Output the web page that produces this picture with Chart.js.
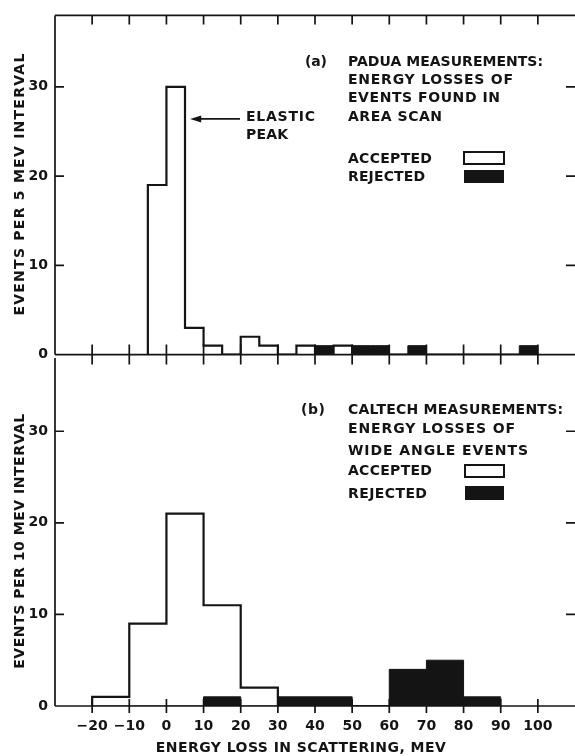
<!DOCTYPE html>
<html>
<head>
<meta charset="utf-8">
<script src="https://cdn.jsdelivr.net/npm/chart.js@4.4.1/dist/chart.umd.min.js"></script>
<style>
    html, body { margin: 0; padding: 0; background: #fff; }
    #wrap { position: relative; width: 575px; height: 756px; overflow: hidden; }
    .panel { position: absolute; left: 0; width: 575px; }
    #top { top: 0; height: 370px; }
    #bottom { top: 340px; height: 416px; }
</style>
</head>
<body>
<div id="wrap">
    <div class="panel" id="top"><canvas id="chart-padua" width="575" height="370"></canvas></div>
    <div class="panel" id="bottom"><canvas id="chart-caltech" width="575" height="416"></canvas></div>
</div>
<script>

// 
// Padua: 5 MeV bins (left edge, MeV) and events per bin.
// 
var paduaBins     = [-5, 0, 5, 10, 15, 20, 25, 30, 35, 40, 45, 50, 55, 60, 65, 70, 75, 80, 85, 90, 95];
var paduaAccepted = [19, 30, 3, 1, 0, 2, 1, 0, 1, 0, 1, 0, 0, 0, 0, 0, 0, 0, 0, 0, 0];
var paduaRejected = [0, 0, 0, 0, 0, 0, 0, 0, 0, 1, 0, 1, 1, 0, 1, 0, 0, 0, 0, 0, 1];
var paduaWidth = 5;

// 
// Caltech: 10 MeV bins.
// 
var caltechBins     = [-20, -10, 0, 10, 20, 30, 40, 50, 60, 70, 80];
var caltechAccepted = [1, 9, 21, 11, 2, 0, 0, 0, 0, 0, 0];
var caltechRejected = [0, 0, 0, 1, 0, 1, 1, 0, 4, 5, 1];
var caltechWidth = 10;

var xTicks = [-20, -10, 0, 10, 20, 30, 40, 50, 60, 70, 80, 90, 100];
var xTickLabels = ['\u221220', '\u221210', '0', '10', '20', '30', '40', '50', '60', '70', '80', '90', '100'];
var yTicks = [0, 10, 20, 30];

var ink = '#141414';
var font = 'DejaVu Sans';

// 
// Turn bins into points for a stepped outline.
// 
function steps(bins, counts, width) {
    var pts = [{x: bins[0], y: 0}];
    for (var i = 0; i < bins.length; ++i) {
        pts.push({x: bins[i], y: counts[i]});
    }
    pts.push({x: bins[bins.length - 1] + width, y: 0});
    return pts;
}

// 
// Text squeezed or stretched to the width it has in the figure.
// 
function fitText(ctx, text, x, y, width) {
    ctx.letterSpacing = '0px';
    var w = ctx.measureText(text).width;
    var sp = width ? (width - w) / (text.length - 1) : 1;
    ctx.letterSpacing = sp.toFixed(2) + 'px';
    ctx.fillText(text, x, y);
}

var framePlugin = {
    id: 'frame',
    afterDatasetsDraw: function (chart, args, opts) {
        var ctx = chart.ctx, a = chart.chartArea;
        var xs = chart.scales.x, ys = chart.scales.y;
        var dy = opts.offsetY;

        ctx.save();
        ctx.strokeStyle = ink;
        ctx.fillStyle = ink;
        ctx.lineWidth = 1.7;
        ctx.lineCap = 'butt';

        ctx.beginPath();
        ctx.moveTo(a.left, a.top);
        ctx.lineTo(a.left, a.bottom);
        ctx.moveTo(a.left, a.bottom);
        ctx.lineTo(a.right, a.bottom);
        if (opts.topEdge) {
            ctx.moveTo(a.left, a.top);
            ctx.lineTo(a.right, a.top);
        }
        xTicks.forEach(function (v) {
            var px = xs.getPixelForValue(v);
            if (opts.topEdge) {
                ctx.moveTo(px, a.top);
                ctx.lineTo(px, a.top + 9);
            }
            ctx.moveTo(px, a.bottom - opts.tickUp);
            ctx.lineTo(px, a.bottom + opts.tickDown);
        });
        yTicks.forEach(function (v) {
            if (v === 0) {
                return;
            }
            var py = ys.getPixelForValue(v);
            ctx.moveTo(a.left, py);
            ctx.lineTo(a.left + 9, py);
            ctx.moveTo(a.right - 9, py);
            ctx.lineTo(a.right, py);
        });
        ctx.stroke();

        // 
        // Legend boxes.
        // 
        ctx.lineWidth = 2;
        opts.boxes.forEach(function (b) {
            if (b[4]) {
                ctx.fillRect(b[0], b[1] - dy, b[2], b[3]);
            } else {
                ctx.strokeRect(b[0], b[1] - dy, b[2], b[3]);
            }
        });

        // 
        // Arrow to the elastic peak.
        // 
        if (opts.arrow) {
            var x0 = xs.getPixelForValue(opts.arrow[0]);
            var x1 = xs.getPixelForValue(opts.arrow[1]);
            var ya = ys.getPixelForValue(opts.arrow[2]);
            ctx.lineWidth = 1.8;
            ctx.beginPath();
            ctx.moveTo(x0, ya);
            ctx.lineTo(x1 + 8, ya);
            ctx.stroke();
            ctx.beginPath();
            ctx.moveTo(x1, ya);
            ctx.lineTo(x1 + 11, ya - 3.5);
            ctx.lineTo(x1 + 11, ya + 3.5);
            ctx.closePath();
            ctx.fill();
        }

        ctx.font = 'bold 14px "' + font + '"';
        ctx.textBaseline = 'middle';
        ctx.textAlign = 'left';
        opts.labels.forEach(function (l) {
            fitText(ctx, l[0], l[1], l[2] - dy, l[3]);
        });

        if (opts.xTitle) {
            ctx.textAlign = 'center';
            fitText(ctx, opts.xTitle[0], opts.xTitle[1], opts.xTitle[2] - dy, opts.xTitle[3]);
        }

        if (opts.yTitle) {
            ctx.save();
            ctx.translate(opts.yTitle[1], opts.yTitle[2] - dy);
            ctx.rotate(-Math.PI / 2);
            ctx.textAlign = 'center';
            fitText(ctx, opts.yTitle[0], 0, 0, opts.yTitle[3]);
            ctx.restore();
        }
        ctx.restore();
    }
};

function histogram(canvas, bins, accepted, rejected, width, showX, padding, notes) {
    return new Chart(canvas, {
        type: 'line',
        data: {
            datasets: [
                {
                    label: 'REJECTED',
                    data: steps(bins, rejected, width),
                    stepped: true,
                    fill: 'origin',
                    backgroundColor: ink,
                    borderColor: ink,
                    borderWidth: 1,
                    pointRadius: 0
                },
                {
                    label: 'ACCEPTED',
                    data: steps(bins, accepted, width),
                    stepped: true,
                    fill: false,
                    borderColor: ink,
                    borderWidth: 2.2,
                    borderJoinStyle: 'miter',
                    pointRadius: 0
                }
            ]
        },
        options: {
            responsive: false,
            animation: false,
            events: [],
            layout: {padding: padding},
            plugins: {
                legend: {display: false},
                tooltip: {enabled: false},
                frame: notes
            },
            scales: {
                x: {
                    type: 'linear',
                    min: -30,
                    max: 110,
                    display: showX,
                    grid: {display: false, drawTicks: false},
                    border: {display: false},
                    afterBuildTicks: function (scale) {
                        scale.ticks = xTicks.map(function (v) {
                            return {value: v};
                        });
                    },
                    afterFit: function (scale) {
                        if (showX) {
                            scale.height = 50;
                        }
                    },
                    ticks: {
                        autoSkip: false,
                        maxRotation: 0,
                        padding: 12,
                        color: ink,
                        font: {family: font, size: 14, weight: 'bold'},
                        callback: function (v) {
                            return xTickLabels[xTicks.indexOf(v)];
                        }
                    }
                },
                y: {
                    min: 0,
                    max: 38,
                    grid: {display: false, drawTicks: false},
                    border: {display: false},
                    afterBuildTicks: function (scale) {
                        scale.ticks = yTicks.map(function (v) {
                            return {value: v};
                        });
                    },
                    afterFit: function (scale) {
                        scale.width = 55;
                    },
                    ticks: {
                        padding: 7,
                        color: ink,
                        font: {family: font, size: 14, weight: 'bold'}
                    }
                }
            }
        },
        plugins: [framePlugin]
    });
}

histogram(document.getElementById('chart-padua'),
        paduaBins, paduaAccepted, paduaRejected, paduaWidth, false,
        {top: 9, right: 0, bottom: 12, left: 0},
        {
            offsetY: 0, topEdge: true, tickUp: 10, tickDown: 10,
            arrow: [19.8, 6.4, 26.4],
            labels: [
                ['(a)', 305, 62, 22],
                ['PADUA MEASUREMENTS:', 348, 62, 195],
                ['ENERGY LOSSES OF', 348, 80, 165],
                ['EVENTS FOUND IN', 348, 98, 152],
                ['AREA SCAN', 348, 117, 94],
                ['ELASTIC', 246, 117, 69],
                ['PEAK', 246, 135, 42],
                ['ACCEPTED', 348, 159, 84],
                ['REJECTED', 348, 177, 77]
            ],
            boxes: [[464, 152, 40, 12, false], [464, 170, 40, 13, true]],
            yTitle: ['EVENTS PER 5 MEV INTERVAL', 20, 184, 262]
        });

histogram(document.getElementById('chart-caltech'),
        caltechBins, caltechAccepted, caltechRejected, caltechWidth, true,
        {top: 18, right: 0, bottom: 0, left: 0},
        {
            offsetY: 340, topEdge: false, tickUp: 7, tickDown: 7,
            arrow: null,
            labels: [
                ['(b)', 301, 410, 24],
                ['CALTECH MEASUREMENTS:', 348, 410, 215],
                ['ENERGY LOSSES OF', 348, 429, 167],
                ['WIDE ANGLE EVENTS', 348, 451, 180],
                ['ACCEPTED', 348, 471, 84],
                ['REJECTED', 348, 494, 79]
            ],
            boxes: [[465, 465, 39, 12, false], [465, 486, 39, 14, true]],
            xTitle: ['ENERGY LOSS IN SCATTERING, MEV', 301, 748, 290],
            yTitle: ['EVENTS PER 10 MEV INTERVAL', 20, 541, 255]
        });

</script>
</body>
</html>
